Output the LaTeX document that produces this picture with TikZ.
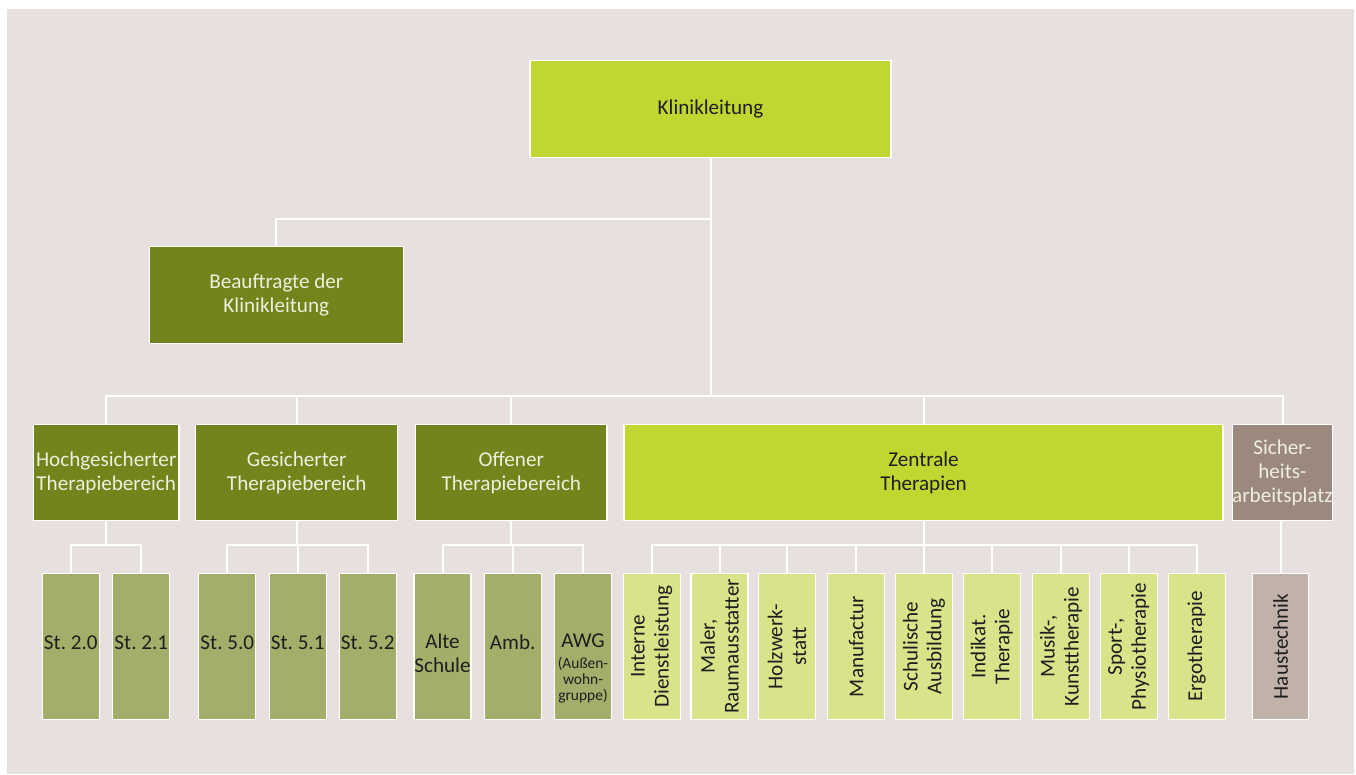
\documentclass[tikz,border=0pt]{standalone}
\usepackage{fontspec}
\setmainfont{Carlito}
\frenchspacing
\definecolor{paper}{HTML}{E7E0DE}
\definecolor{lime}{HTML}{C0D731}
\definecolor{olive}{HTML}{73841C}
\definecolor{olivelt}{HTML}{A4AE6A}
\definecolor{limelt}{HTML}{D8E38A}
\definecolor{taupe}{HTML}{9C897D}
\definecolor{taupelt}{HTML}{C0B1A9}
\definecolor{ink}{HTML}{1E1E1E}
\definecolor{cream}{HTML}{EEEFDC}
\newcommand{\smalltxt}{\fontsize{15.5}{16}\selectfont}
\begin{document}
\begin{tikzpicture}[x=1bp,y=-1bp,
  box/.style={draw=white, line width=1.3bp, inner sep=0pt, align=center,
    font=\fontsize{21.2}{24}\selectfont},
  top/.style={box, fill=lime, text=ink, minimum width=361bp, minimum height=96.5bp},
  dept/.style={box, fill=olive, text=cream, minimum height=96.5bp},
  unit/.style={box, minimum width=57bp, minimum height=146bp},
  ward/.style={unit, fill=olivelt},
  shop/.style={unit, fill=limelt},
  txt/.style={align=center, text=ink, inner sep=0pt,
    font=\fontsize{21.2}{24}\selectfont},
  vtxt/.style={txt, rotate=90},
  conn/.style={draw=white, line width=2bp}]
\useasboundingbox (0,0) rectangle (1356,774);
\fill[white] (0,0) rectangle (1356,774);
\fill[paper] (7,9) rectangle (1354,774);

% top level
\node[top] (klinik) at (710.5,109) {Klinikleitung};
\node[dept, minimum width=254bp] (beauf) at (276.3,295) {Beauftragte der\\Klinikleitung};

% departments
\node[dept, minimum width=145.7bp] (hoch) at (106.2,472.5) {Hochgesicherter\\Therapiebereich};
\node[dept, minimum width=202bp] (gesich) at (296.7,472.5) {Gesicherter\\Therapiebereich};
\node[dept, minimum width=191.3bp] (offen) at (511.3,472.5) {Offener\\Therapiebereich};
\node[box, fill=lime, text=ink, minimum width=599bp, minimum height=96.5bp] (zentr) at (923.5,472.5) {Zentrale\\Therapien};
\node[box, fill=taupe, text=cream, minimum width=99.6bp, minimum height=96.5bp] (sicher) at (1282.5,472.5) {Sicher-\\heits-\\arbeitsplatz};

% wards
\node[ward, label={[txt, yshift=4bp]center:St. 2.0}] (st20) at (70.8,646.5) {};
\node[ward, label={[txt, yshift=4bp]center:St. 2.1}] (st21) at (141.3,646.5) {};
\node[ward, label={[txt, yshift=4bp]center:St. 5.0}] (st50) at (227.3,646.5) {};
\node[ward, label={[txt, yshift=4bp]center:St. 5.1}] (st51) at (297.7,646.5) {};
\node[ward, label={[txt, yshift=4bp]center:St. 5.2}] (st52) at (367.7,646.5) {};
\node[ward, label={[txt, yshift=-7bp]center:Alte\\Schule}] (alte) at (442.5,646.5) {};
\node[ward, label={[txt, yshift=4bp]center:Amb.}] (amb) at (512.7,646.5) {};
\node[ward, label={[txt, yshift=-22bp]center:AWG\\[-3bp]{\smalltxt (Außen-}\\[-8bp]{\smalltxt wohn-}\\[-8bp]{\smalltxt gruppe)}}] (awg) at (583,646.5) {};

% central therapies
\node[shop, label={[vtxt]center:Interne\\Dienstleistung}] (intern) at (651.7,646.5) {};
\node[shop, label={[vtxt]center:Maler,\\Raumausstatter}] (maler) at (719.5,646.5) {};
\node[shop, label={[vtxt]center:Holzwerk-\\statt}] (holz) at (787,646.5) {};
\node[shop, label={[vtxt]center:Manufactur}] (manu) at (856.3,646.5) {};
\node[shop, label={[vtxt]center:Schulische\\Ausbildung}] (schul) at (924,646.5) {};
\node[shop, label={[vtxt]center:Indikat.\\Therapie}] (indik) at (991.7,646.5) {};
\node[shop, label={[vtxt]center:Musik-,\\Kunsttherapie}] (musik) at (1061,646.5) {};
\node[shop, label={[vtxt]center:Sport-,\\Physiotherapie}] (sport) at (1128.7,646.5) {};
\node[shop, label={[vtxt]center:Ergotherapie}] (ergo) at (1196.7,646.5) {};
\node[unit, fill=taupelt, minimum width=56bp, label={[vtxt]center:Haustechnik}] (haus) at (1280.7,646.5) {};

% connectors
\coordinate (j1) at (710.5,219);
\coordinate (bus) at (710.5,396);
\draw[conn] (klinik.south) -- (bus);
\draw[conn] (j1) -| (beauf.north);
\foreach \d in {hoch,gesich,offen,zentr,sicher}
  \draw[conn] (bus) -| (\d.north);

\path (hoch.south) ++(0,24) coordinate (hb);
\path (gesich.south) ++(0,24) coordinate (gb);
\path (offen.south) ++(0,24) coordinate (ob);
\path (zentr.south) ++(0,24) coordinate (zb);
\draw[conn] (hoch.south) -- (hb);
\draw[conn] (gesich.south) -- (gb);
\draw[conn] (offen.south) -- (ob);
\draw[conn] (zentr.south) -- (zb);
\foreach \u in {st20,st21} \draw[conn] (hb) -| (\u.north);
\foreach \u in {st50,st51,st52} \draw[conn] (gb) -| (\u.north);
\foreach \u in {alte,amb,awg} \draw[conn] (ob) -| (\u.north);
\foreach \u in {intern,maler,holz,manu,schul,indik,musik,sport,ergo}
  \draw[conn] (zb) -| (\u.north);
\draw[conn] (sicher.south -| haus.north) -- (haus.north);
\end{tikzpicture}
\end{document}
